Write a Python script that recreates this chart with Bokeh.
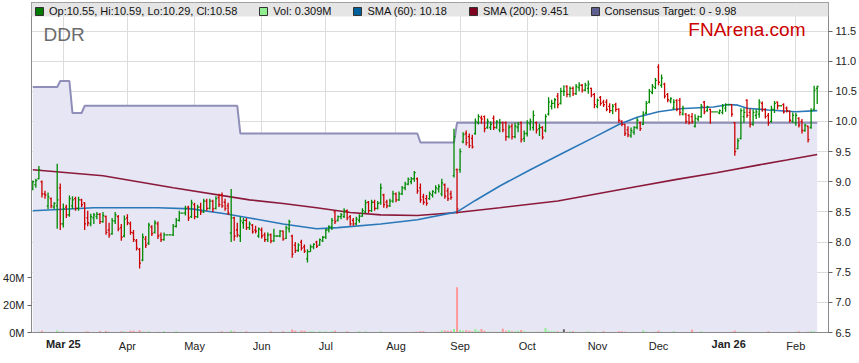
import pandas as pd
from bokeh.plotting import figure
from bokeh.models import (Range1d, LinearAxis, FixedTicker, NumeralTickFormatter, ColumnDataSource,
                          Legend, LegendItem, Label, BoxAnnotation)
from bokeh.embed import file_html
from bokeh.resources import INLINE

# ---------------- data ----------------
dates = pd.bdate_range("2025-02-17", "2026-02-11")   # every weekday (holidays drawn flat)

opens = [
    8.88, 8.95, 9.05, 9.00, 8.80, 8.60, 8.72, 8.58, 8.60, 8.90,
    8.30, 8.58, 8.45, 8.60, 8.72, 8.56, 8.70, 8.65, 8.40, 8.30, 8.40, 8.42, 8.46, 8.34, 8.42, 8.20, 8.14, 8.35, 8.42, 8.24, 8.10,
    8.40, 8.30, 8.15, 8.02, 7.88, 7.70, 8.05, 7.98, 8.25, 8.16, 8.30, 8.12, 8.04, 8.12, 8.12, 8.12, 8.26, 8.36, 8.48, 8.48, 8.58, 8.42,
    8.62, 8.42, 8.58, 8.50, 8.68, 8.56, 8.68, 8.56, 8.74, 8.78, 8.66, 8.60, 8.15, 8.40, 8.20, 8.10, 8.32, 8.36, 8.24, 8.28, 8.20, 8.10,
    8.20, 8.12, 8.04, 8.12, 8.02, 8.10, 8.10, 8.18, 8.06, 8.22, 8.10, 7.95, 7.86, 8.00, 7.92, 7.72, 7.84, 7.92, 8.00, 7.95, 8.02,
    8.08, 8.20, 8.25, 8.50, 8.36, 8.42, 8.42, 8.52, 8.42, 8.36, 8.30, 8.36, 8.43, 8.50, 8.66, 8.52, 8.66, 8.56, 8.65, 8.78, 8.66, 8.60, 8.68,
    8.80, 8.70, 8.80, 8.90, 8.96, 9.00, 9.05, 9.05, 8.90, 8.75, 8.72, 8.72, 8.78, 8.82, 8.88, 8.80, 8.95, 8.85, 8.80, 9.10, 9.20,
    9.20, 9.66, 9.80, 9.75, 9.72, 9.80, 9.98, 10.06, 10.08, 9.90, 9.90, 10.05, 9.90, 9.86, 9.98, 9.98, 9.75, 9.92, 9.75, 9.90, 9.98, 9.72,
    9.80, 9.96, 9.90, 9.98, 9.88, 9.90, 9.85, 10.12, 10.25, 10.30, 10.42, 10.30, 10.50, 10.58, 10.45, 10.55, 10.46, 10.56, 10.60, 10.52, 10.55, 10.55, 10.45,
    10.25, 10.40, 10.32, 10.32, 10.25, 10.18, 10.28, 10.20, 10.00, 9.95, 9.86, 9.76, 9.82, 9.90, 9.98, 9.95, 10.14, 10.32, 10.48, 10.56,
    10.90, 10.60, 10.62, 10.45, 10.34, 10.22, 10.35, 10.35, 10.12, 10.12, 10.10, 10.08, 9.92, 10.04, 10.08, 10.32, 10.18, 10.20, 10.16, 10.16, 10.14, 10.15, 10.22,
    10.28, 10.28, 9.98, 9.55, 9.72, 10.08, 10.35, 10.15, 9.95, 10.10, 10.12, 10.30, 10.20, 10.10, 10.00, 10.20, 10.32, 10.26, 10.28, 10.22, 10.17, 10.00,
    9.98, 10.05, 10.00, 9.85, 9.92, 9.90, 10.20, 10.55,
]
highs = [
    9.02, 9.05, 9.26, 9.02, 8.85, 8.82, 8.74, 8.66, 9.30, 8.97,
    8.64, 8.62, 8.77, 8.76, 8.75, 8.75, 8.72, 8.66, 8.52, 8.47, 8.48, 8.50, 8.48, 8.50, 8.44, 8.32, 8.40, 8.50, 8.45, 8.30, 8.44,
    8.46, 8.34, 8.20, 8.05, 7.90, 8.14, 8.10, 8.32, 8.28, 8.36, 8.34, 8.16, 8.16, 8.12, 8.12, 8.30, 8.40, 8.52, 8.48, 8.60, 8.60, 8.70,
    8.65, 8.62, 8.65, 8.72, 8.72, 8.72, 8.70, 8.76, 8.80, 8.82, 8.72, 8.65, 8.88, 8.42, 8.32, 8.42, 8.40, 8.40, 8.34, 8.30, 8.27, 8.24,
    8.24, 8.16, 8.16, 8.14, 8.22, 8.10, 8.20, 8.19, 8.27, 8.37, 8.12, 8.00, 7.98, 8.04, 7.96, 7.88, 7.96, 7.98, 8.02, 8.06, 8.10,
    8.22, 8.28, 8.40, 8.52, 8.44, 8.48, 8.56, 8.54, 8.45, 8.40, 8.42, 8.46, 8.56, 8.70, 8.68, 8.70, 8.70, 8.68, 8.97, 8.80, 8.70, 8.72, 8.85,
    8.82, 8.84, 8.93, 9.00, 9.07, 9.08, 9.18, 9.07, 8.97, 8.80, 8.78, 8.84, 8.86, 8.94, 8.96, 9.05, 8.97, 8.90, 8.85, 9.88, 9.22,
    9.55, 9.82, 9.85, 9.80, 9.78, 10.05, 10.12, 10.10, 10.10, 10.05, 10.00, 10.10, 10.02, 10.04, 10.00, 10.00, 9.95, 9.96, 9.98, 9.99, 10.00, 9.85,
    10.02, 10.05, 10.18, 10.00, 9.96, 9.92, 10.12, 10.40, 10.36, 10.39, 10.47, 10.56, 10.60, 10.60, 10.58, 10.58, 10.62, 10.65, 10.62, 10.64, 10.68, 10.56, 10.47,
    10.38, 10.42, 10.36, 10.37, 10.30, 10.29, 10.31, 10.22, 10.02, 9.96, 9.92, 9.90, 9.92, 10.06, 10.00, 10.17, 10.34, 10.54, 10.62, 10.72,
    10.95, 10.78, 10.64, 10.47, 10.40, 10.37, 10.37, 10.39, 10.26, 10.14, 10.12, 10.14, 10.12, 10.10, 10.29, 10.34, 10.26, 10.21, 10.16, 10.16, 10.20, 10.29, 10.30,
    10.28, 10.29, 9.99, 9.72, 10.22, 10.22, 10.37, 10.21, 10.20, 10.20, 10.37, 10.33, 10.22, 10.14, 10.26, 10.34, 10.33, 10.26, 10.30, 10.25, 10.18, 10.15,
    10.14, 10.07, 10.04, 9.96, 9.93, 10.22, 10.59, 10.59,
]
lows = [
    8.86, 8.90, 9.04, 8.74, 8.72, 8.55, 8.56, 8.55, 8.22, 8.20,
    8.24, 8.40, 8.42, 8.55, 8.52, 8.52, 8.58, 8.20, 8.26, 8.26, 8.30, 8.38, 8.30, 8.32, 8.12, 8.07, 8.12, 8.30, 8.18, 8.02, 8.08,
    8.28, 8.12, 8.00, 7.86, 7.56, 7.68, 7.90, 7.95, 8.10, 8.14, 8.05, 8.00, 8.02, 8.12, 8.12, 8.10, 8.24, 8.34, 8.48, 8.44, 8.35, 8.40,
    8.38, 8.40, 8.45, 8.48, 8.52, 8.54, 8.50, 8.54, 8.58, 8.57, 8.52, 8.45, 8.00, 8.02, 8.08, 8.00, 8.22, 8.20, 8.20, 8.14, 8.14, 8.07,
    8.06, 8.00, 8.00, 7.98, 8.00, 8.10, 8.08, 8.02, 8.05, 8.16, 7.74, 7.82, 7.84, 7.86, 7.82, 7.66, 7.84, 7.88, 7.90, 7.94, 8.00,
    8.05, 8.16, 8.20, 8.30, 8.34, 8.38, 8.40, 8.36, 8.27, 8.27, 8.28, 8.32, 8.42, 8.48, 8.48, 8.50, 8.52, 8.54, 8.62, 8.57, 8.56, 8.58, 8.65,
    8.66, 8.68, 8.78, 8.86, 8.94, 8.96, 9.00, 8.80, 8.65, 8.62, 8.60, 8.70, 8.74, 8.80, 8.82, 8.76, 8.72, 8.68, 8.70, 9.07, 8.47,
    9.15, 9.64, 9.60, 9.56, 9.55, 9.78, 9.95, 9.96, 9.82, 9.88, 9.86, 9.86, 9.88, 9.82, 9.82, 9.68, 9.72, 9.70, 9.72, 9.82, 9.65, 9.66,
    9.75, 9.85, 9.85, 9.80, 9.76, 9.70, 9.82, 10.10, 10.20, 10.22, 10.22, 10.28, 10.42, 10.40, 10.40, 10.42, 10.44, 10.50, 10.48, 10.50, 10.46, 10.40, 10.22,
    10.22, 10.26, 10.24, 10.17, 10.14, 10.12, 10.16, 9.98, 9.92, 9.76, 9.74, 9.73, 9.78, 9.87, 9.84, 9.94, 10.12, 10.30, 10.45, 10.54,
    10.60, 10.56, 10.38, 10.32, 10.30, 10.20, 10.17, 10.10, 10.10, 9.96, 9.95, 9.96, 9.90, 10.00, 10.06, 10.12, 10.16, 9.96, 10.16, 10.16, 10.12, 10.12, 10.16,
    10.28, 10.08, 9.43, 9.54, 9.70, 9.98, 10.06, 9.90, 9.93, 10.04, 10.06, 10.16, 10.05, 9.93, 9.98, 10.14, 10.20, 10.26, 10.13, 10.15, 9.98, 9.98,
    9.93, 9.90, 9.80, 9.83, 9.65, 9.88, 10.18, 10.29,
]
closes = [
    9.00, 9.02, 9.20, 8.80, 8.78, 8.75, 8.60, 8.64, 8.70, 8.30,
    8.55, 8.45, 8.72, 8.70, 8.56, 8.70, 8.62, 8.30, 8.32, 8.42, 8.45, 8.46, 8.34, 8.44, 8.16, 8.12, 8.35, 8.45, 8.22, 8.08, 8.38,
    8.32, 8.16, 8.04, 7.90, 7.65, 8.08, 7.95, 8.28, 8.14, 8.32, 8.10, 8.04, 8.12, 8.12, 8.12, 8.26, 8.36, 8.48, 8.48, 8.56, 8.40, 8.65,
    8.42, 8.58, 8.50, 8.68, 8.56, 8.68, 8.55, 8.72, 8.62, 8.60, 8.56, 8.48, 8.40, 8.10, 8.12, 8.35, 8.36, 8.24, 8.30, 8.17, 8.18, 8.22,
    8.10, 8.04, 8.12, 8.02, 8.10, 8.10, 8.18, 8.05, 8.24, 8.34, 7.80, 7.86, 7.95, 7.90, 7.85, 7.84, 7.92, 7.96, 7.93, 8.04, 8.08,
    8.20, 8.25, 8.36, 8.34, 8.42, 8.45, 8.52, 8.40, 8.30, 8.30, 8.38, 8.43, 8.52, 8.65, 8.52, 8.66, 8.56, 8.64, 8.90, 8.62, 8.60, 8.68, 8.80,
    8.70, 8.80, 8.90, 8.96, 9.04, 9.05, 9.15, 8.85, 8.70, 8.66, 8.64, 8.80, 8.84, 8.90, 8.92, 8.98, 8.76, 8.72, 8.74, 9.75, 8.55,
    9.50, 9.78, 9.65, 9.60, 9.58, 10.00, 10.08, 10.04, 9.88, 10.00, 9.95, 9.90, 10.00, 9.98, 9.86, 9.75, 9.90, 9.75, 9.92, 9.95, 9.70, 9.80,
    9.98, 10.00, 10.10, 9.86, 9.90, 9.74, 10.08, 10.32, 10.30, 10.36, 10.28, 10.50, 10.50, 10.45, 10.55, 10.46, 10.58, 10.60, 10.52, 10.60, 10.62, 10.44, 10.28,
    10.35, 10.30, 10.28, 10.20, 10.18, 10.25, 10.20, 10.02, 9.95, 9.80, 9.78, 9.85, 9.90, 10.02, 9.88, 10.12, 10.30, 10.50, 10.58, 10.68,
    10.65, 10.72, 10.42, 10.36, 10.38, 10.32, 10.20, 10.15, 10.22, 10.00, 9.98, 10.00, 10.05, 10.08, 10.25, 10.16, 10.24, 10.16, 10.16, 10.16, 10.18, 10.26, 10.28,
    10.28, 10.12, 9.50, 9.68, 10.18, 10.15, 10.10, 9.95, 10.15, 10.16, 10.32, 10.20, 10.08, 9.98, 10.20, 10.30, 10.26, 10.26, 10.16, 10.18, 10.02, 10.10,
    10.10, 9.94, 9.85, 9.94, 9.70, 10.18, 10.52, 10.58,
]
volumes_m = [
    0.4, 0.4, 0.5, 1.2, 0.4, 0.4, 0.4, 0.4, 1.4, 0.6,
    1.0, 0.4, 0.4, 0.4, 0.4, 0.4, 0.4, 0.6, 1.0, 0.4, 0.4, 0.4, 1.1, 0.4, 1.1, 0.5, 0.4, 0.4, 0.4, 1.0, 1.0,
    0.5, 1.2, 1.2, 0.6, 1.6, 0.8, 0.5, 1.0, 0.4, 0.4, 0.6, 0.4, 1.0, 0.0, 0.0, 0.4, 1.0, 0.4, 0.0, 0.4, 0.4, 0.4,
    0.4, 0.4, 0.4, 0.4, 0.4, 0.4, 0.4, 0.4, 0.5, 1.0, 0.4, 0.5, 1.5, 1.0, 0.4, 0.5, 0.4, 1.0, 0.4, 0.4, 0.4, 0.4,
    0.4, 0.4, 0.4, 1.0, 0.4, 0.0, 0.4, 1.0, 0.4, 0.5, 2.2, 1.2, 0.6, 1.5, 1.2, 0.6, 1.0, 1.0, 0.4, 1.0, 0.5,
    1.0, 0.4, 1.0, 1.2, 0.4, 0.4, 0.5, 1.0, 0.4, 0.4, 0.4, 1.0, 0.4, 1.0, 0.4, 0.4, 0.4, 0.4, 1.0, 0.4, 0.4, 0.4, 0.4,
    0.4, 0.4, 0.4, 0.4, 0.4, 0.4, 0.5, 0.6, 1.0, 1.0, 0.4, 0.4, 0.4, 0.4, 0.5, 1.5, 1.5, 1.2, 1.2, 2.6, 33.0,
    1.8, 1.2, 1.6, 1.2, 1.0, 2.4, 1.2, 2.6, 1.2, 0.6, 0.5, 0.6, 0.5, 0.6, 2.8, 1.2, 1.6, 1.0, 1.0, 1.2, 1.8, 1.0,
    0.6, 0.5, 0.6, 0.5, 0.5, 0.6, 3.2, 1.2, 1.0, 1.0, 1.0, 0.5, 2.4, 0.5, 1.0, 1.0, 0.5, 0.4, 0.4, 0.5, 1.0, 0.4, 0.5,
    0.4, 0.4, 1.0, 0.4, 0.4, 0.4, 0.4, 1.0, 1.0, 0.5, 0.4, 0.4, 0.4, 0.4, 0.4, 1.5, 0.5, 0.4, 0.4, 0.5,
    1.2, 0.5, 0.4, 0.4, 0.4, 1.0, 0.4, 0.4, 0.4, 0.4, 0.4, 2.0, 0.4, 0.4, 1.0, 0.4, 0.4, 0.4, 0.0, 0.0, 0.4, 0.4, 0.4,
    0.0, 0.5, 1.2, 0.5, 0.6, 0.5, 0.4, 0.4, 0.4, 0.4, 0.4, 0.4, 0.4, 1.0, 0.4, 0.4, 0.4, 0.0, 0.4, 0.4, 0.4, 0.4,
    0.5, 1.0, 0.4, 0.4, 0.5, 1.0, 1.0, 0.309,
]

# consensus target: day index where a new value starts, and the value
target_start_idx = [0, 9, 13, 17, 68, 127, 139]
target_values = [10.57, 10.67, 10.14, 10.26, 9.80, 9.65, 9.98]

# moving averages at these day indexes
sma60_idx = [0, 20, 41, 52, 63, 71, 82, 93, 100, 114, 126, 139, 145, 153, 163, 175, 184, 192, 198, 205, 212, 223, 228, 231, 234, 241, 250, 257]
sma60_val = [8.52, 8.57, 8.57, 8.55, 8.47, 8.40, 8.30, 8.22, 8.24, 8.30, 8.37, 8.50, 8.69, 8.93, 9.20, 9.51, 9.74, 9.95, 10.07, 10.16, 10.21, 10.24, 10.28, 10.27, 10.22, 10.19, 10.16, 10.18]
sma200_idx = [0, 23, 46, 71, 82, 93, 104, 114, 126, 139, 153, 172, 185, 198, 211, 224, 238, 247, 257]
sma200_val = [9.20, 9.10, 8.90, 8.70, 8.64, 8.57, 8.49, 8.45, 8.44, 8.49, 8.57, 8.68, 8.80, 8.92, 9.04, 9.15, 9.28, 9.36, 9.451]

month_labels = ["Mar 25", "Apr", "May", "Jun", "Jul", "Aug", "Sep", "Oct", "Nov", "Dec", "Jan 26", "Feb"]
bold_labels = ["Mar 25", "Jan 26"]
price_ticks = [6.5, 7.0, 7.5, 8.0, 8.5, 9.0, 9.5, 10.0, 10.5, 11.0, 11.5]
volume_ticks = [0, 20, 40]
volume_tick_labels = ["0M", "20M", "40M"]

n = len(dates)
assert all(len(a) == n for a in (opens, highs, lows, closes, volumes_m)), [len(a) for a in (opens, highs, lows, closes, volumes_m)]

# ---------------- derived ----------------
FONT = "Liberation Sans"
UP, DOWN = "#008a00", "#cc0000"
idx = list(range(n))
month_ticks = [i for i in range(1, n) if dates[i].month != dates[i - 1].month]
target_daily = []
k = 0
for i in idx:
    while k + 1 < len(target_start_idx) and target_start_idx[k + 1] <= i:
        k += 1
    target_daily.append(target_values[k])

bar_col = [UP if c >= o else DOWN for o, c in zip(opens, closes)]
vol_col = ["#90ee90" if c > o else ("#ff9999" if c < o else "#666666") for o, c in zip(opens, closes)]
src = ColumnDataSource(dict(x=idx, xl=[i - 0.45 for i in idx], xr=[i + 0.45 for i in idx],
                            o=opens, h=highs, l=lows, c=closes, v=volumes_m,
                            bc=bar_col, vc=vol_col, t=target_daily))

FW, FH = 797, 330
PX_PER_UNIT = 60.3
Y0 = 6.5
Y1 = Y0 + FH / PX_PER_UNIT
p = figure(frame_width=FW, frame_height=FH, x_range=Range1d(-0.42, 260.7), y_range=Range1d(Y0, Y1),
           y_axis_location="right", output_backend="svg", toolbar_location=None,
           min_border_left=0, min_border_right=0, min_border_top=2, min_border_bottom=0,
           background_fill_color="white", border_fill_color="white",
           outline_line_color="#8a8a8a")
p.extra_y_ranges = {"vol": Range1d(0, FH / 27.5 * 20)}

# consensus area + line
p.varea(x="x", y1=0, y2="t", source=src, fill_color="#e6e6f5")
p.line(x="x", y="t", source=src, line_color="#8e8eb8", line_width=2)
# volume
p.vbar(x="x", top="v", bottom=0, width=0.65, y_range_name="vol", source=src, fill_color="vc", line_color=None)
# moving averages
p.line(sma200_idx, sma200_val, line_color="#8b1a3a", line_width=1.6)
p.line(sma60_idx, sma60_val, line_color="#2a78b8", line_width=1.6)
# OHLC bars
p.segment(x0="x", y0="l", x1="x", y1="h", source=src, line_color="bc", line_width=1.3)
p.segment(x0="xl", y0="o", x1="x", y1="o", source=src, line_color="bc", line_width=1.3)
p.segment(x0="x", y0="c", x1="xr", y1="c", source=src, line_color="bc", line_width=1.3)

# axes
yax = p.yaxis[0]
yax.ticker = FixedTicker(ticks=price_ticks)
yax.formatter = NumeralTickFormatter(format="0.0")
vax = LinearAxis(y_range_name="vol", ticker=FixedTicker(ticks=volume_ticks),
                 major_label_overrides={t: l for t, l in zip(volume_ticks, volume_tick_labels)})
p.add_layout(vax, "left")
for ax in (yax, vax):
    ax.major_tick_out = 4
    ax.major_tick_in = 0
    ax.minor_tick_out = 0
    ax.minor_tick_in = 0
    ax.major_label_standoff = 3

# x axis: first (next to the frame) carries the bold year labels, second the plain month labels,
# pulled back up onto the same row with a negative standoff
LABEL_H = 13
xax = p.xaxis[0]
bold_ticks = [t for t, l in zip(month_ticks, month_labels) if l in bold_labels]
xax.ticker = FixedTicker(ticks=bold_ticks)
xax.major_label_overrides = {t: l for t, l in zip(month_ticks, month_labels) if l in bold_labels}
xax.major_label_text_font_style = "bold"
xax.major_label_standoff = 5
xax2 = LinearAxis(ticker=FixedTicker(ticks=[t for t, l in zip(month_ticks, month_labels) if l not in bold_labels]),
                  major_label_overrides={t: l for t, l in zip(month_ticks, month_labels) if l not in bold_labels})
p.add_layout(xax2, "below")
xax2.axis_line_color = None
for ax in (xax, xax2):
    ax.major_tick_out = 0
    ax.major_tick_in = 0
    ax.minor_tick_out = 0
    ax.minor_tick_in = 0
    ax.major_tick_line_color = None
    ax.minor_tick_line_color = None
xax2.major_label_standoff = -LABEL_H
for ax in (yax, vax, xax, xax2):
    ax.major_label_text_font = FONT
    ax.major_label_text_font_size = "11px"
    ax.major_label_text_color = "#222222"
for ax in (yax, vax, xax):
    ax.axis_line_color = "#8a8a8a"
for ax in (yax, vax):
    ax.major_tick_line_color = "#666666"

p.xgrid.ticker = FixedTicker(ticks=month_ticks)
p.ygrid.ticker = FixedTicker(ticks=price_ticks)
p.xgrid.grid_line_color = "#dcdcdc"
p.ygrid.grid_line_color = "#dcdcdc"

# legend strip
p.add_layout(BoxAnnotation(bottom=Y1 - 14 / PX_PER_UNIT, fill_color="#e5e5e5", fill_alpha=1.0,
                           line_color=None))
leg_colors = ["#007a00", "#90ee90", "#00609c", "#800020", "#5f5f8f"]
leg_texts = [
    f"Op:{opens[-1]:.2f}, Hi:{highs[-1]:.2f}, Lo:{lows[-1]:.2f}, Cl:{closes[-1]:.2f}",
    f"Vol: {volumes_m[-1]:.3f}M",
    f"SMA (60): {sma60_val[-1]:g}",
    f"SMA (200): {sma200_val[-1]:g}",
    f"Consensus Target: 0 - {target_values[-1]:.2f}",
]
nan = float("nan")
items = []
for col, txt in zip(leg_colors, leg_texts):
    r = p.quad(left=[nan], right=[nan], bottom=[nan], top=[nan], fill_color=col,
               line_color="#333333", line_width=1)
    items.append(LegendItem(label=txt, renderers=[r]))
legend = Legend(items=items, orientation="horizontal", location="top_left", margin=0, padding=3,
                spacing=21, glyph_width=10, glyph_height=10, label_height=12, label_standoff=5,
                label_text_font=FONT, label_text_font_size="11px", label_text_color="#111111",
                background_fill_alpha=0, border_line_alpha=0)
p.add_layout(legend)

# titles inside the plot
p.add_layout(Label(x=12, y=FH - 21, x_units="screen", y_units="screen", text="DDR",
                   text_baseline="top", text_font=FONT, text_font_size="19px", text_color="#6b6b6b"))
p.add_layout(Label(x=FW - 23, y=FH - 16, x_units="screen", y_units="screen", text="FNArena.com",
                   text_align="right", text_baseline="top", text_font=FONT, text_font_size="19px",
                   text_color="#cc0000"))

open("out.html", "w").write(file_html(p, INLINE))
